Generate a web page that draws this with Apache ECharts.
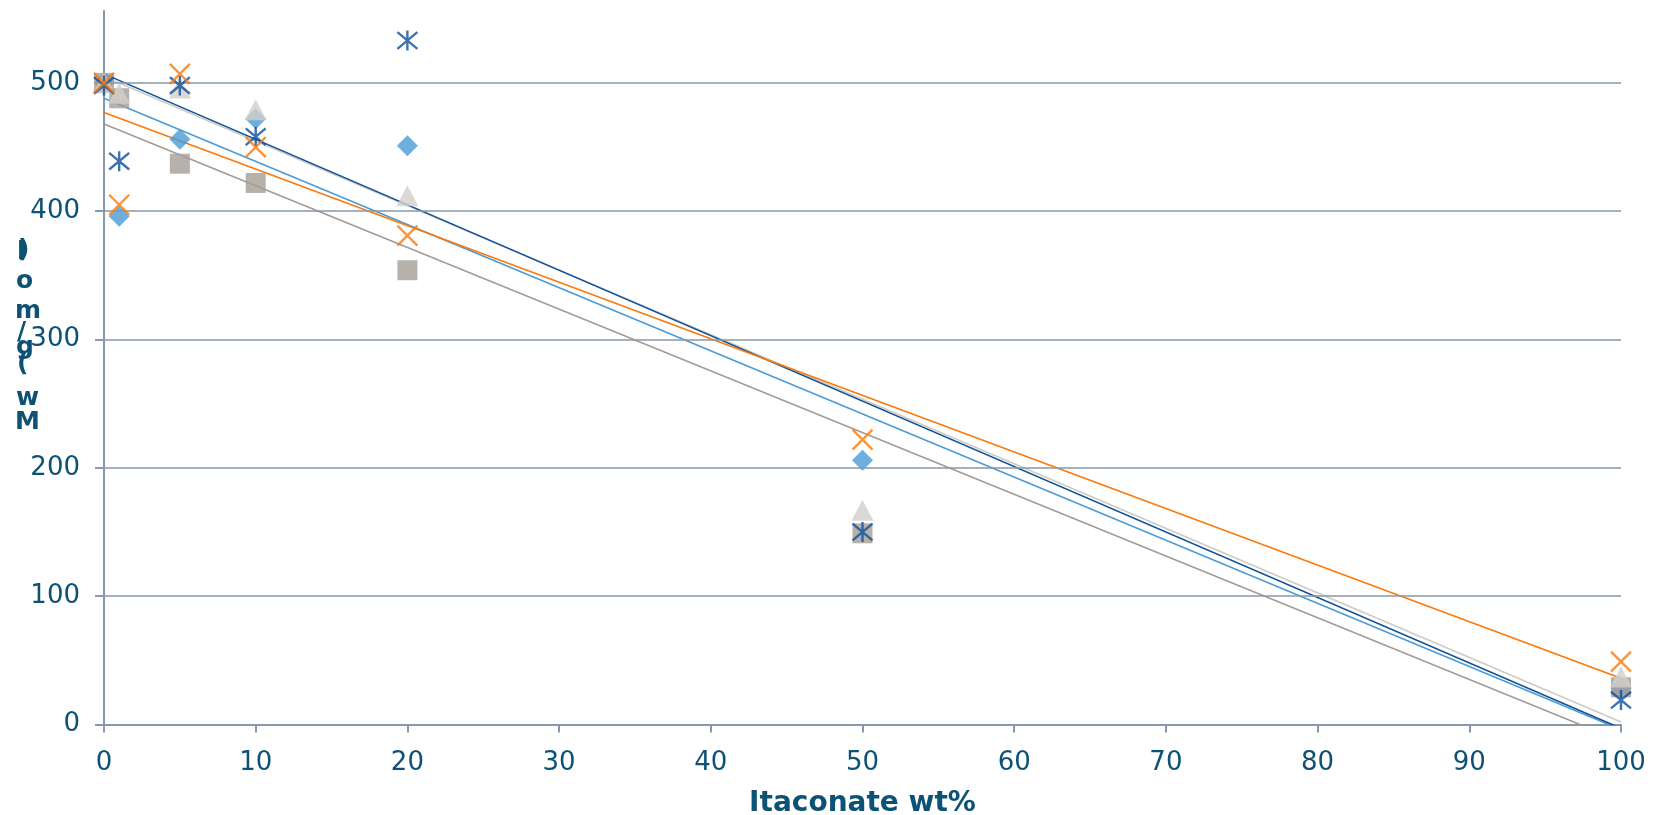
<!DOCTYPE html>
<html><head><meta charset="utf-8">
<script src="https://cdn.jsdelivr.net/npm/echarts@6/dist/echarts.min.js"></script>
<style>html,body{margin:0;padding:0;background:#fff}#c{width:1664px;height:815px}</style>
</head><body><div id="c"></div>
<script>
// ---- data ----
const xValues = [0, 1, 5, 10, 20, 50, 100];
const diamondValues  = [500, 396, 456, 472, 451, 206, 28];
const squareValues   = [500, 488, 437, 422, 354, 149, 29];
const triangleValues = [500, 492, 496, 479, 412, 167, 37];
const asteriskValues = [498, 439, 498, 458, 533, 150, 19];
const crossValues    = [500, 405, 507, 450, 381, 222, 49];
// linear trendline values at the ends of the x range
const trendX = [0, 100];
const diamondTrend  = [488, -4];
const squareTrend   = [468, -13];
const triangleTrend = [505, 2];
const asteriskTrend = [507, -3];
const crossTrend    = [477, 36];
const yTicks = [0, 100, 200, 300, 400, 500];
const xTicksMax = 100;
const yMax = 556;
const xTitle = 'Itaconate wt%';
const yTitle = 'Mw (g/mol)';

// ---- styling ----
const TXT = '#0d5275';
const AX = '#8797ab';
const C_DIAMOND = '#4b9bd5';
const C_SQUARE = '#a59d96';
const C_TRI = '#d2d0ca';
const C_AST = '#0c4f9c';
const C_CROSS = '#fb790b';
const FONT = '"DejaVu Sans", Verdana, sans-serif';

const pairs = (xs, ys) => xs.map((x, i) => [x, ys[i]]);

function trend(vals, color) {
  return {
    type: 'line', data: pairs(trendX, vals), showSymbol: false, symbol: 'none',
    lineStyle: { color: color, width: 1.6 }, z: 2, silent: true, clip: true
  };
}
function scatter(vals, symbol, size, style, z) {
  return {
    type: 'scatter', data: pairs(xValues, vals), symbol: symbol, symbolSize: size,
    itemStyle: style, z: z, silent: true, clip: false
  };
}
const XPATH = 'path://M0,0L10,10M10,0L0,10';
const ASTPATH = 'path://M0,0L10,10M10,0L0,10M5,-1L5,11';

// y title characters stacked (as in the reference)
const yTitleChars = yTitle.replace(' ', '').split('');
const yTitleY = [425, 401, 367, 350, 335, 314, 284, 255, 253];
const yTitleX = [15, 16, 17, 16, 17, 15, 16, 17, 18];
const graphics = yTitleChars.map((ch, i) => ({
  type: 'text', left: yTitleX[i], top: yTitleY[i] - 15,
  style: { text: ch, fill: TXT, font: 'bold 25px ' + FONT }
}));

const chart = echarts.init(document.getElementById('c'), null, { renderer: 'canvas' });
chart.setOption({
  animation: false,
  backgroundColor: '#fff',
  grid: { left: 104, right: 43, top: 11, bottom: 90.5, containLabel: false, outerBoundsMode: 'none' },
  xAxis: {
    type: 'value', min: 0, max: xTicksMax, interval: 10,
    name: xTitle, nameLocation: 'middle', nameGap: 65,
    nameTextStyle: { color: TXT, fontFamily: FONT, fontWeight: 'bold', fontSize: 28 },
    axisLine: { show: true, onZero: false, lineStyle: { color: AX, width: 2 } },
    axisTick: { show: true, length: 8, lineStyle: { color: AX, width: 2 } },
    axisLabel: { color: TXT, fontFamily: FONT, fontSize: 26, margin: 26 },
    splitLine: { show: false }
  },
  yAxis: {
    type: 'value', min: 0, max: yMax, interval: 100,
    axisLine: { show: true, onZero: false, lineStyle: { color: AX, width: 2 } },
    axisTick: { show: true, length: 9, customValues: yTicks, lineStyle: { color: AX, width: 2 } },
    axisLabel: {
      color: TXT, fontFamily: FONT, fontSize: 26, margin: 24, customValues: yTicks,
      formatter: v => (v % 100 === 0 ? String(v) : '')
    },
    splitLine: { show: false }
  },
  graphic: graphics,
  series: [
    {
      type: 'line', data: [], z: 0, silent: true,
      markLine: {
        silent: true, symbol: ['none', 'none'], animation: false,
        label: { show: false },
        lineStyle: { color: AX, width: 1.6, type: 'solid' },
        emphasis: { disabled: true },
        data: yTicks.filter(v => v > 0).map(v => ({ yAxis: v }))
      }
    },
    trend(diamondTrend, C_DIAMOND),
    trend(squareTrend, '#a39b94'),
    trend(triangleTrend, '#cdcbc5'),
    trend(asteriskTrend, '#0f519a'),
    trend(crossTrend, C_CROSS),
    scatter(diamondValues, 'diamond', [21, 21], { color: C_DIAMOND }, 3),
    scatter(squareValues, 'rect', [20, 20], { color: C_SQUARE }, 4),
    scatter(triangleValues, 'triangle', [22, 21], { color: C_TRI }, 5),
    scatter(asteriskValues, ASTPATH, [20, 20], { color: 'none', borderColor: C_AST, borderWidth: 2.4 }, 6),
    scatter(crossValues, XPATH, [20, 20], { color: 'none', borderColor: C_CROSS, borderWidth: 2.4 }, 7)
  ]
});
</script>
</body></html>
